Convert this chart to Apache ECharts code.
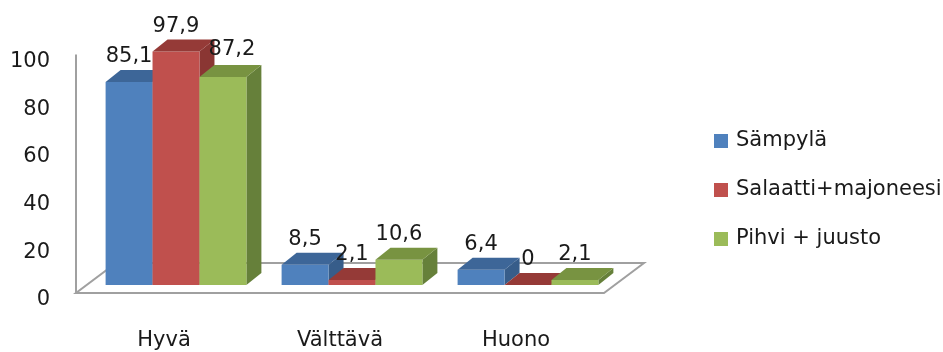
<!DOCTYPE html>
<html>
<head>
<meta charset="utf-8">
<script src="https://cdn.jsdelivr.net/npm/echarts@6/dist/echarts.min.js"></script>
<style>
  html, body { margin: 0; padding: 0; background: #ffffff; }
  #chart { width: 943px; height: 352px; }
</style>
</head>
<body>
<div id="chart"></div>
<script>
// Survey results: share (%) of ratings per sandwich filling
const categories = ['Hyvä', 'Välttävä', 'Huono'];
const seriesNames = ['Sämpylä', 'Salaatti+majoneesi', 'Pihvi + juusto'];
const sampyla = [85.1, 8.5, 6.4];
const salaatti = [97.9, 2.1, 0];
const pihvi = [87.2, 10.6, 2.1];
const yTicks = [0, 20, 40, 60, 80, 100];

const FONT = '"DejaVu Sans", sans-serif';
const TEXT_COLOR = '#1a1a1a';
const EDGE_COLOR = '#a0a0a0';

// Face colours of the extruded columns: front, top, side
const palettes = [
  { front: '#4f81bd', top: '#3d6698', side: '#375d8a' },
  { front: '#c0504d', top: '#953a37', side: '#8a3633' },
  { front: '#9bbb59', top: '#789341', side: '#66803a' }
];

// Pseudo-3D geometry (pixels)
const FLOOR_DX = 40, FLOOR_DY = -30;   // depth of the floor plate
const SHIFT_X = 12, SHIFT_Y = -8;      // columns sit a little behind the front edge
const BOX_DX = 15, BOX_DY = -12;       // depth of each column
const BAR_FRACTION = 0.8;              // share of a category band used by the cluster
const LABEL_GAP = 25;                  // value label centre above the front top edge
// green "Hyvä" label is pushed right, clear of the taller red column
const LABEL_NUDGE = { '2-0': [9, -2] };

const valueSets = [sampyla, salaatti, pihvi];

function fmt(v) {
  return String(v).replace('.', ',');
}

function floorRenderer(params, api) {
  const cs = params.coordSys;
  const x0 = cs.x, x1 = cs.x + cs.width;
  const yTop = cs.y, yb = cs.y + cs.height;
  return {
    type: 'group',
    children: [
      {
        type: 'polygon',
        shape: { points: [[x0, yb], [x1, yb], [x1 + FLOOR_DX, yb + FLOOR_DY], [x0 + FLOOR_DX, yb + FLOOR_DY]] },
        style: { fill: '#ffffff', stroke: EDGE_COLOR, lineWidth: 2 }
      },
      {
        type: 'line',
        shape: { x1: x0, y1: yTop, x2: x0, y2: yb },
        style: { stroke: EDGE_COLOR, lineWidth: 2 }
      }
    ]
  };
}

function columnRenderer(sIdx) {
  const pal = palettes[sIdx];
  return function (params, api) {
    const cat = api.value(0);
    const val = api.value(1);
    const base = api.coord([cat, 0]);
    const tip = api.coord([cat, val]);
    const band = api.size([1, 0])[0];
    const w = band * BAR_FRACTION / 3;
    const left = base[0] + SHIFT_X - 1.5 * w + sIdx * w;
    const right = left + w;
    const bottom = base[1] + SHIFT_Y;
    const top = tip[1] + SHIFT_Y;
    const nudge = LABEL_NUDGE[sIdx + '-' + cat] || [0, 0];
    return {
      type: 'group',
      children: [
        {
          type: 'polygon',
          shape: { points: [[right, top], [right + BOX_DX, top + BOX_DY], [right + BOX_DX, bottom + BOX_DY], [right, bottom]] },
          style: { fill: pal.side }
        },
        {
          type: 'rect',
          shape: { x: left, y: top, width: w, height: Math.max(bottom - top, 0) },
          style: { fill: pal.front }
        },
        {
          type: 'polygon',
          shape: { points: [[left, top], [right, top], [right + BOX_DX, top + BOX_DY], [left + BOX_DX, top + BOX_DY]] },
          style: { fill: pal.top }
        },
        {
          type: 'text',
          z2: 10,
          style: {
            text: fmt(val),
            x: left + w / 2 + nudge[0],
            y: top - LABEL_GAP + nudge[1],
            align: 'center',
            verticalAlign: 'middle',
            textAlign: 'center',
            textVerticalAlign: 'middle',
            fontSize: 21,
            fontFamily: FONT,
            fill: TEXT_COLOR
          }
        }
      ]
    };
  };
}

const chart = echarts.init(document.getElementById('chart'), null, { renderer: 'canvas' });

const series = [
  {
    name: 'floor',
    type: 'custom',
    coordinateSystem: 'cartesian2d',
    renderItem: floorRenderer,
    data: [[0, 0]],
    silent: true,
    z: 1
  }
];

valueSets.forEach(function (vals, i) {
  series.push({
    name: seriesNames[i],
    type: 'custom',
    coordinateSystem: 'cartesian2d',
    renderItem: columnRenderer(i),
    itemStyle: { color: palettes[i].front },
    data: vals.map(function (v, c) { return [c, v]; }),
    z: 2
  });
});

chart.setOption({
  animation: false,
  backgroundColor: '#ffffff',
  grid: { left: 76, top: 54.5, width: 528, height: 238.5, containLabel: false },
  xAxis: {
    type: 'category',
    data: categories,
    axisLine: { show: false },
    axisTick: { show: false },
    splitLine: { show: false },
    axisLabel: { fontSize: 21, fontFamily: FONT, color: TEXT_COLOR, margin: 37 }
  },
  yAxis: {
    type: 'value',
    min: yTicks[0],
    max: yTicks[yTicks.length - 1],
    interval: yTicks[1] - yTicks[0],
    axisLine: { show: false },
    axisTick: { show: false },
    splitLine: { show: false },
    axisLabel: {
      fontSize: 21, fontFamily: FONT, color: TEXT_COLOR, margin: 26,
      verticalAlign: 'top', lineHeight: 14
    }
  },
  legend: {
    data: seriesNames,
    orient: 'vertical',
    left: 709,
    top: 125.5,
    itemWidth: 14,
    itemHeight: 14,
    itemGap: 28,
    icon: 'rect',
    textStyle: { fontSize: 21, fontFamily: FONT, color: TEXT_COLOR, padding: [0, 0, 0, 3] }
  },
  series: series
});
</script>
</body>
</html>
